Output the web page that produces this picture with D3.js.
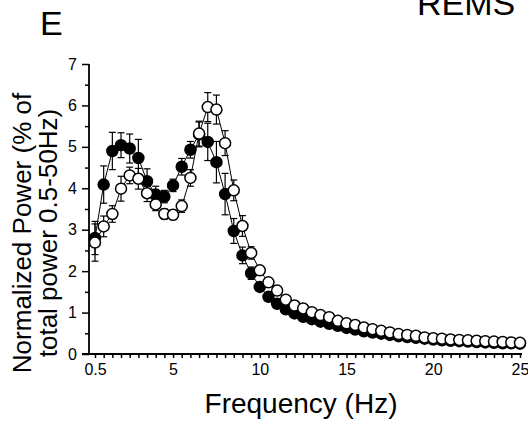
<!DOCTYPE html>
<html>
<head>
<meta charset="utf-8">
<script src="https://cdn.jsdelivr.net/npm/d3@7"></script>
<style>
  html, body { margin: 0; padding: 0; background: #fff; }
  svg { display: block; font-family: "Liberation Sans", Arial, sans-serif; }
</style>
</head>
<body>
<svg id="chart" width="528" height="424"></svg>
<script>
// Frequency bins (Hz)
const freqs = [0.5, 1, 1.5, 2, 2.5, 3, 3.5, 4, 4.5, 5, 5.5, 6, 6.5, 7, 7.5, 8, 8.5, 9, 9.5, 10,
  10.5, 11, 11.5, 12, 12.5, 13, 13.5, 14, 14.5, 15, 15.5, 16, 16.5, 17, 17.5, 18, 18.5, 19, 19.5, 20,
  20.5, 21, 21.5, 22, 22.5, 23, 23.5, 24, 24.5, 25];

// Filled-circle group: mean normalized power (%)
const filledMean = [2.8, 4.09, 4.9, 5.04, 4.96, 4.73, 4.17, 3.85, 3.8, 4.07, 4.52, 4.93, 5.3, 5.12, 4.63, 3.86, 2.97, 2.38, 1.95, 1.62,
  1.38, 1.21, 1.08, 0.98, 0.9, 0.84, 0.78, 0.73, 0.68, 0.63, 0.59, 0.55, 0.52, 0.49, 0.46, 0.43, 0.41, 0.39, 0.37, 0.35,
  0.33, 0.32, 0.31, 0.3, 0.29, 0.28, 0.27, 0.26, 0.26, 0.25];
const filledSem = [0.4, 0.45, 0.45, 0.3, 0.35, 0.45, 0.3, 0.2, 0.15, 0.15, 0.2, 0.2, 0.3, 0.45, 0.5, 0.5, 0.3, 0.2, 0.15, 0.1,
  0.08, 0.06, 0.05, 0.05, 0.04, 0.04, 0.03, 0.03, 0.03, 0.03, 0.02, 0.02, 0.02, 0.02, 0.02, 0.02, 0.02, 0.02, 0.02, 0.02,
  0.02, 0.02, 0.02, 0.02, 0.02, 0.02, 0.02, 0.02, 0.02, 0.02];

// Open-circle group: mean normalized power (%)
const openMean = [2.69, 3.08, 3.38, 3.99, 4.31, 4.23, 3.88, 3.61, 3.38, 3.36, 3.57, 4.25, 5.32, 5.96, 5.9, 5.09, 3.95, 3.09, 2.44, 2.02,
  1.73, 1.53, 1.31, 1.17, 1.1, 1.01, 0.94, 0.89, 0.8, 0.74, 0.7, 0.64, 0.6, 0.56, 0.52, 0.48, 0.46, 0.44, 0.4, 0.38,
  0.37, 0.35, 0.34, 0.33, 0.32, 0.31, 0.3, 0.29, 0.28, 0.27];
const openSem = [0.45, 0.25, 0.2, 0.3, 0.2, 0.25, 0.2, 0.15, 0.12, 0.12, 0.15, 0.2, 0.3, 0.35, 0.35, 0.3, 0.25, 0.25, 0.15, 0.1,
  0.08, 0.06, 0.05, 0.05, 0.04, 0.04, 0.03, 0.03, 0.03, 0.03, 0.02, 0.02, 0.02, 0.02, 0.02, 0.02, 0.02, 0.02, 0.02, 0.02,
  0.02, 0.02, 0.02, 0.02, 0.02, 0.02, 0.02, 0.02, 0.02, 0.02];

// Axis ticks
const yMajorTicks = [0, 1, 2, 3, 4, 5, 6, 7];
const yMinorTicks = [0.5, 1.5, 2.5, 3.5, 4.5, 5.5, 6.5];
const xLabelTicks = [0.5, 5, 10, 15, 20, 25];

const svg = d3.select("#chart");

const x = d3.scaleLinear().domain([0.5, 25]).range([95, 520]);
const y = d3.scaleLinear().domain([0, 7]).range([354, 64]);
const axisX = x(0.5) - 6;   // position of the vertical axis line

// ----- axes -----
const axisG = svg.append("g");

// y axis: major ticks with labels, minor ticks at half units
const yMajor = axisG.append("g").attr("transform", `translate(${axisX},0)`)
  .call(d3.axisLeft(y).tickValues(yMajorTicks).tickSize(7).tickSizeOuter(0).tickPadding(5).tickFormat(d3.format("d")));
const yMinor = axisG.append("g").attr("transform", `translate(${axisX},0)`)
  .call(d3.axisLeft(y).tickValues(yMinorTicks).tickSize(4).tickSizeOuter(0).tickFormat(""));

// x axis: a tick at every frequency bin, labels on selected ones
const xAx = axisG.append("g").attr("transform", `translate(0,${y(0)})`)
  .call(d3.axisBottom(x).tickValues(freqs).tickSize(4).tickSizeOuter(0).tickPadding(6)
    .tickFormat(d => xLabelTicks.includes(d) ? String(d) : ""));

[yMajor, yMinor, xAx].forEach(g => {
  g.select(".domain").remove();
  g.selectAll("line").attr("stroke", "#000").attr("stroke-width", 1.5);
  g.selectAll("text").attr("fill", "#000").style("font-size", "16px")
    .style("font-family", "'Liberation Sans', Arial, sans-serif");
});

axisG.append("line")
  .attr("x1", axisX).attr("x2", axisX).attr("y1", y(7)).attr("y2", y(0))
  .attr("stroke", "#000").attr("stroke-width", 1.8);
axisG.append("line")
  .attr("x1", axisX - 7).attr("x2", x(25) + 2).attr("y1", y(0)).attr("y2", y(0))
  .attr("stroke", "#000").attr("stroke-width", 1.8);

// ----- series -----
function drawSeries(mean, sem, fill) {
  const pts = freqs.map((f, i) => ({ f, m: mean[i], s: sem[i] }));
  const g = svg.append("g");

  g.append("path").datum(pts)
    .attr("fill", "none").attr("stroke", "#000").attr("stroke-width", 1)
    .attr("d", d3.line().x(d => x(d.f)).y(d => y(d.m)));

  const eb = g.append("g").selectAll("g").data(pts).join("g")
    .attr("stroke", "#000").attr("stroke-width", 1.2);
  eb.append("line")
    .attr("x1", d => x(d.f)).attr("x2", d => x(d.f))
    .attr("y1", d => y(d.m + d.s)).attr("y2", d => y(d.m - d.s));
  eb.append("line")
    .attr("x1", d => x(d.f) - 3.5).attr("x2", d => x(d.f) + 3.5)
    .attr("y1", d => y(d.m + d.s)).attr("y2", d => y(d.m + d.s));
  eb.append("line")
    .attr("x1", d => x(d.f) - 3.5).attr("x2", d => x(d.f) + 3.5)
    .attr("y1", d => y(d.m - d.s)).attr("y2", d => y(d.m - d.s));

  g.append("g").selectAll("circle").data(pts).join("circle")
    .attr("cx", d => x(d.f)).attr("cy", d => y(d.m)).attr("r", 5.5)
    .attr("fill", fill).attr("stroke", "#000").attr("stroke-width", 1.5);
}

drawSeries(filledMean, filledSem, "#000");
drawSeries(openMean, openSem, "#fff");

// ----- titles -----
svg.append("text").attr("x", 40).attr("y", 35)
  .style("font-size", "34px").attr("fill", "#000").text("E");
svg.append("text").attr("x", 417).attr("y", 15)
  .style("font-size", "34px").attr("fill", "#000").text("REMS");

svg.append("text").attr("x", 301).attr("y", 413).attr("text-anchor", "middle")
  .style("font-size", "28px").attr("fill", "#000").text("Frequency (Hz)");

const yTitle = svg.append("g").attr("transform", "translate(0,233) rotate(-90)");
yTitle.append("text").attr("x", 0).attr("y", 31).attr("text-anchor", "middle")
  .style("font-size", "26px").attr("fill", "#000").text("Normalized Power (% of");
yTitle.append("text").attr("x", 0).attr("y", 57).attr("text-anchor", "middle")
  .style("font-size", "26px").attr("fill", "#000").text("total power 0.5-50Hz)");
</script>
</body>
</html>
